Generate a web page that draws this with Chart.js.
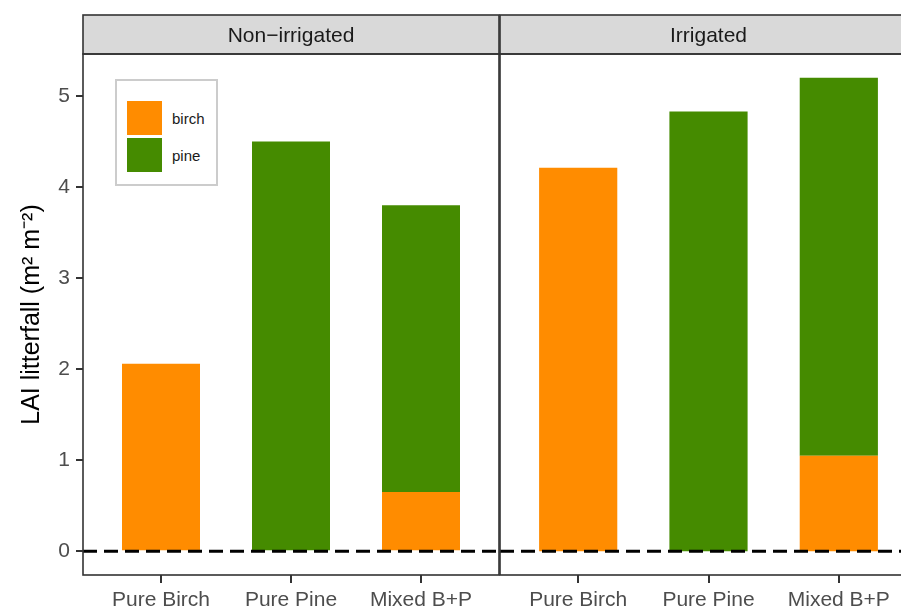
<!DOCTYPE html>
<html lang="en">
<head>
<meta charset="UTF-8">
<title>LAI litterfall</title>
<script src="https://cdn.jsdelivr.net/npm/chart.js"></script>
<style>
    body { margin: 0; width: 901px; height: 609px; overflow: hidden; background: #fff; font-family: "Liberation Sans", Arial, sans-serif; }
    .wrap { position: absolute; top: 0; height: 609px; }
    #leftWrap { left: 0; width: 500px; }
    #rightWrap { left: 499px; width: 418px; }
    .legend { position: absolute; left: 115px; top: 79px; width: 99px; height: 103px; border: 2px solid #cccccc; background: #fff; box-sizing: content-box; }
    .legend .row { position: absolute; left: 10px; height: 34px; display: flex; align-items: center; font-size: 15px; color: #1a1a1a; }
    .legend .key { width: 35px; height: 34px; margin-right: 10px; }
</style>
</head>
<body>
<div class="wrap" id="leftWrap"><canvas id="leftChart"></canvas></div>
<div class="wrap" id="rightWrap"><canvas id="rightChart"></canvas></div>
<div class="legend" id="legend"></div>

<script>
// data
const categories = ['Pure Birch', 'Pure Pine', 'Mixed B+P'];
const facets = ['Non\u2212irrigated', 'Irrigated'];
const seriesNames = ['birch', 'pine'];
const birchNonIrrigated = [2.06, 0, 0.65];
const pineNonIrrigated  = [0, 4.50, 3.15];
const birchIrrigated    = [4.21, 0, 1.05];
const pineIrrigated     = [0, 4.83, 4.15];
const yTicks = [0, 1, 2, 3, 4, 5];

const colors = ['#FF8C00', '#458B00'];
const font = '"Liberation Sans", Arial, sans-serif';

// legend
const legend = document.getElementById('legend');
seriesNames.forEach(function(name, i) {
    const row = document.createElement('div');
    row.className = 'row';
    row.style.top = (20 + i * 37) + 'px';
    row.innerHTML = '<div class="key" style="background:' + colors[i] + '"></div><span>' + name + '</span>';
    legend.appendChild(row);
});

// strip header, panel border and dashed zero line
const facetPlugin = {
    id: 'facet',
    afterDatasetsDraw(chart, args, opts) {
        const ctx = chart.ctx;
        const a = chart.chartArea;
        const y0 = chart.scales.y.getPixelForValue(0);
        ctx.save();
        ctx.strokeStyle = '#000';
        ctx.lineWidth = 3;
        ctx.setLineDash([14, 7]);
        ctx.beginPath();
        ctx.moveTo(a.left, y0);
        ctx.lineTo(a.right, y0);
        ctx.stroke();
        ctx.setLineDash([]);

        ctx.fillStyle = '#d9d9d9';
        ctx.fillRect(a.left, 15, a.right - a.left, a.top - 15);
        ctx.strokeStyle = '#333333';
        ctx.lineWidth = 1.6;
        ctx.strokeRect(a.left, 15, a.right - a.left, a.top - 15);
        ctx.strokeRect(a.left, a.top, a.right - a.left, a.bottom - a.top);

        ctx.fillStyle = '#1a1a1a';
        ctx.font = '21px ' + font;
        ctx.textAlign = 'center';
        ctx.textBaseline = 'middle';
        ctx.fillText(opts.label, (a.left + a.right) / 2, (15 + a.top) / 2 + 2);
        ctx.restore();
    }
};

function makeChart(id, facet, birch, pine, showY) {
    const toXY = arr => arr.map((v, i) => ({ x: i + 1, y: v }));
    return new Chart(document.getElementById(id), {
        type: 'bar',
        data: {
            datasets: [
                { label: seriesNames[0], data: toXY(birch), backgroundColor: colors[0] },
                { label: seriesNames[1], data: toXY(pine), backgroundColor: colors[1] }
            ]
        },
        options: {
            responsive: true,
            maintainAspectRatio: false,
            animation: false,
            layout: { padding: showY ? { top: 54, right: 1 } : { top: 54, left: 1 } },
            datasets: { bar: { categoryPercentage: 1, barPercentage: 0.6, borderWidth: 0 } },
            plugins: {
                legend: { display: false },
                tooltip: { enabled: false },
                facet: { label: facet }
            },
            scales: {
                x: {
                    type: 'linear',
                    offset: false,
                    stacked: true,
                    min: 0.4,
                    max: 3.6,
                    afterBuildTicks: s => { s.ticks = categories.map((c, i) => ({ value: i + 1 })); },
                    afterFit: s => { s.height = 34; },
                    border: { display: false },
                    grid: { offset: false, drawOnChartArea: false, tickLength: 8, color: '#333333', lineWidth: 2 },
                    ticks: {
                        padding: 5,
                        color: '#4d4d4d',
                        font: { family: font, size: 21 },
                        maxRotation: 0,
                        autoSkip: false,
                        callback: v => categories[v - 1]
                    }
                },
                y: {
                    display: showY,
                    stacked: true,
                    min: -0.26,
                    max: 5.46,
                    afterBuildTicks: s => { s.ticks = yTicks.map(v => ({ value: v })); },
                    afterFit: s => { if (showY) s.width = 83; },
                    border: { display: false },
                    grid: { drawOnChartArea: false, tickLength: 7, color: '#333333', lineWidth: 2 },
                    ticks: {
                        padding: 6,
                        color: '#4d4d4d',
                        font: { family: font, size: 21 }
                    },
                    title: {
                        display: true,
                        text: 'LAI litterfall (m\u00b2 m\u207b\u00b2)',
                        color: '#000',
                        font: { family: font, size: 25 },
                        padding: { top: 17, bottom: 0 }
                    }
                }
            }
        },
        plugins: [facetPlugin]
    });
}

makeChart('leftChart', facets[0], birchNonIrrigated, pineNonIrrigated, true);
makeChart('rightChart', facets[1], birchIrrigated, pineIrrigated, false);
</script>
</body>
</html>
